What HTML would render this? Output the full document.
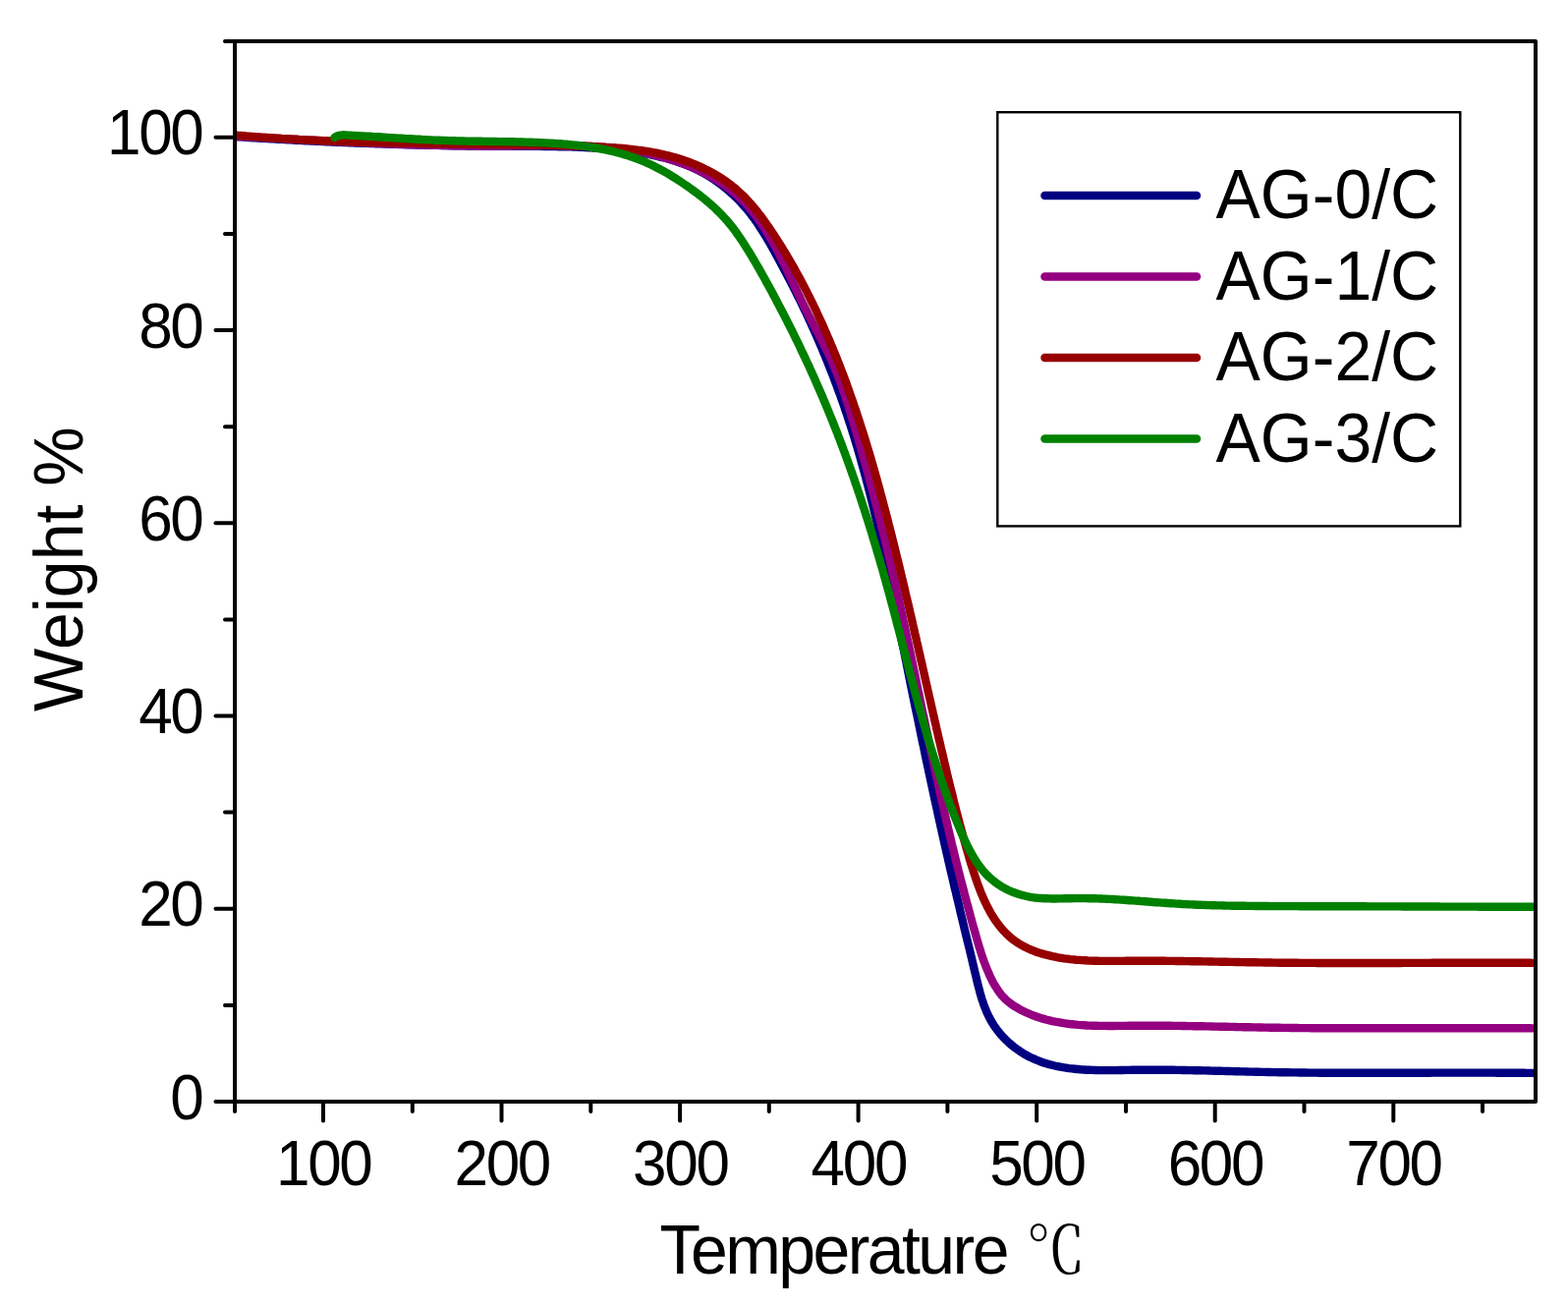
<!DOCTYPE html>
<html><head><meta charset="utf-8"><title>TGA</title>
<style>html,body{margin:0;padding:0;background:#fff;}svg{display:block;}</style>
</head><body>
<svg width="1596" height="1331" viewBox="0 0 1596 1331">
<rect width="1596" height="1331" fill="#fff"/>
<defs><clipPath id="pc"><rect x="239" y="0" width="1324" height="1331"/></clipPath></defs>
<g clip-path="url(#pc)" fill="none" stroke-width="8.4" stroke-linejoin="round" stroke-linecap="round">
<path d="M239.0,139.0L242.0,139.2 245.0,139.4 248.0,139.6 251.0,139.8 254.0,140.0 257.0,140.2 260.0,140.3 263.0,140.5 266.0,140.7 269.0,140.9 272.0,141.1 275.0,141.2 278.0,141.4 281.0,141.6 283.9,141.7 286.9,141.9 289.9,142.1 292.9,142.2 295.9,142.4 298.9,142.6 301.9,142.7 304.9,142.9 307.9,143.0 310.9,143.2 313.9,143.3 316.9,143.5 319.9,143.6 322.9,143.8 325.9,143.9 328.9,144.1 331.9,144.2 334.9,144.3 337.9,144.5 340.9,144.6 343.9,144.7 346.8,144.9 349.8,145.0 352.8,145.1 355.8,145.2 358.8,145.3 361.8,145.5 364.8,145.6 367.8,145.7 370.8,145.8 373.8,145.9 376.8,146.0 379.8,146.1 382.8,146.2 385.8,146.3 388.8,146.4 391.8,146.5 394.8,146.6 397.8,146.7 400.8,146.8 403.8,146.9 406.8,147.0 409.8,147.1 412.8,147.2 415.8,147.2 418.7,147.3 421.7,147.4 424.7,147.5 427.7,147.5 430.7,147.6 433.7,147.7 436.7,147.8 439.7,147.8 442.7,147.9 445.7,147.9 448.7,148.0 451.7,148.1 454.7,148.1 457.7,148.2 460.7,148.2 463.7,148.3 466.7,148.3 469.7,148.4 472.7,148.4 475.7,148.5 478.7,148.5 481.7,148.5 484.7,148.6 487.7,148.6 490.7,148.6 493.7,148.7 496.7,148.7 499.7,148.7 502.8,148.7 505.8,148.8 508.8,148.8 511.8,148.8 514.8,148.8 517.8,148.8 520.8,148.8 523.8,148.8 526.8,148.8 529.8,148.9 532.8,148.9 535.8,148.9 538.8,148.9 541.8,148.9 544.8,148.9 547.8,148.9 550.8,148.9 553.8,149.0 556.8,149.0 559.9,149.0 562.9,149.1 565.9,149.1 568.9,149.2 571.9,149.2 574.9,149.3 577.9,149.4 580.9,149.4 583.9,149.5 586.9,149.6 589.8,149.8 592.8,149.9 595.8,150.0 598.8,150.2 601.8,150.3 604.8,150.5 607.8,150.7 610.8,150.9 613.8,151.1 616.7,151.4 619.7,151.6 622.7,151.9 625.7,152.2 628.7,152.5 631.6,152.8 634.6,153.2 637.6,153.5 640.5,153.9 643.5,154.3 646.5,154.7 649.4,155.2 652.4,155.7 655.3,156.2 658.3,156.7 661.2,157.2 664.2,157.8 667.1,158.4 670.0,159.1 672.9,159.8 675.8,160.5 678.7,161.2 681.6,162.0 684.5,162.9 687.3,163.7 690.1,164.7 693.0,165.7 695.8,166.7 698.5,167.8 701.3,168.9 704.1,170.1 706.8,171.3 709.5,172.6 712.1,174.0 714.8,175.4 717.4,176.9 720.0,178.4 722.6,180.0 725.1,181.6 727.6,183.3 730.1,185.0 732.6,186.8 735.0,188.6 737.3,190.5 739.7,192.4 742.0,194.3 744.2,196.3 746.5,198.4 748.6,200.4 750.8,202.5 752.9,204.7 754.9,206.9 756.9,209.1 758.9,211.3 760.8,213.6 762.7,216.0 764.5,218.3 766.3,220.7 768.1,223.1 769.8,225.5 771.5,227.9 773.1,230.4 774.7,232.9 776.3,235.4 777.9,237.9 779.5,240.5 781.0,243.1 782.5,245.6 784.0,248.2 785.5,250.8 786.9,253.4 788.4,256.0 789.8,258.7 791.3,261.3 792.7,263.9 794.1,266.6 795.5,269.2 796.9,271.8 798.3,274.5 799.7,277.1 801.1,279.8 802.5,282.4 803.9,285.1 805.3,287.8 806.6,290.4 808.0,293.1 809.4,295.8 810.7,298.5 812.0,301.2 813.4,303.8 814.7,306.5 816.0,309.2 817.3,311.9 818.6,314.6 819.9,317.3 821.2,320.1 822.5,322.8 823.7,325.5 825.0,328.2 826.2,331.0 827.5,333.7 828.7,336.4 829.9,339.2 831.1,341.9 832.3,344.7 833.5,347.4 834.7,350.2 835.9,352.9 837.1,355.7 838.2,358.5 839.4,361.2 840.5,364.0 841.7,366.8 842.8,369.6 843.9,372.4 845.0,375.2 846.1,378.0 847.2,380.7 848.3,383.5 849.3,386.3 850.4,389.2 851.5,392.0 852.5,394.8 853.5,397.6 854.6,400.4 855.6,403.2 856.6,406.1 857.6,408.9 858.6,411.7 859.6,414.5 860.5,417.4 861.5,420.2 862.5,423.1 863.4,425.9 864.3,428.8 865.3,431.6 866.2,434.5 867.1,437.3 868.0,440.2 868.9,443.0 869.8,445.9 870.6,448.8 871.5,451.6 872.4,454.5 873.2,457.4 874.0,460.2 874.9,463.1 875.7,466.0 876.5,468.9 877.3,471.8 878.1,474.6 878.9,477.5 879.7,480.4 880.5,483.3 881.3,486.2 882.0,489.1 882.8,492.0 883.6,494.9 884.3,497.8 885.1,500.7 885.8,503.6 886.5,506.5 887.2,509.4 888.0,512.3 888.7,515.2 889.4,518.1 890.1,521.1 890.8,524.0 891.5,526.9 892.2,529.8 892.8,532.7 893.5,535.6 894.2,538.6 894.9,541.5 895.5,544.4 896.2,547.3 896.8,550.3 897.5,553.2 898.1,556.1 898.8,559.1 899.4,562.0 900.1,564.9 900.7,567.8 901.3,570.8 902.0,573.7 902.6,576.7 903.2,579.6 903.8,582.5 904.4,585.5 905.0,588.4 905.7,591.3 906.3,594.3 906.9,597.2 907.5,600.2 908.1,603.1 908.7,606.0 909.3,609.0 909.9,611.9 910.5,614.9 911.1,617.8 911.7,620.8 912.3,623.7 912.9,626.6 913.5,629.6 914.1,632.5 914.7,635.5 915.2,638.4 915.8,641.4 916.4,644.3 917.0,647.3 917.6,650.2 918.2,653.2 918.8,656.1 919.4,659.0 920.0,662.0 920.6,664.9 921.2,667.9 921.8,670.8 922.4,673.8 923.0,676.7 923.6,679.7 924.1,682.6 924.7,685.5 925.3,688.5 925.9,691.4 926.5,694.4 927.1,697.3 927.7,700.3 928.3,703.2 928.9,706.1 929.5,709.1 930.1,712.0 930.7,715.0 931.3,717.9 931.9,720.8 932.5,723.8 933.2,726.7 933.8,729.7 934.4,732.6 935.0,735.5 935.6,738.5 936.2,741.4 936.8,744.4 937.4,747.3 938.0,750.2 938.6,753.2 939.2,756.1 939.9,759.0 940.5,762.0 941.1,764.9 941.7,767.9 942.3,770.8 942.9,773.7 943.6,776.7 944.2,779.6 944.8,782.5 945.4,785.5 946.1,788.4 946.7,791.3 947.3,794.2 947.9,797.2 948.6,800.1 949.2,803.0 949.8,806.0 950.5,808.9 951.1,811.8 951.7,814.7 952.4,817.7 953.0,820.6 953.7,823.5 954.3,826.5 954.9,829.4 955.6,832.3 956.2,835.2 956.9,838.1 957.5,841.1 958.2,844.0 958.8,846.9 959.5,849.8 960.1,852.7 960.8,855.7 961.4,858.6 962.1,861.5 962.8,864.4 963.4,867.3 964.1,870.2 964.8,873.2 965.4,876.1 966.1,879.0 966.8,881.9 967.4,884.8 968.1,887.7 968.8,890.6 969.5,893.5 970.2,896.4 970.8,899.3 971.5,902.2 972.2,905.2 972.9,908.1 973.6,911.0 974.3,913.9 975.0,916.8 975.7,919.7 976.4,922.6 977.0,925.5 977.7,928.4 978.4,931.3 979.1,934.2 979.8,937.1 980.5,940.1 981.2,943.0 981.9,945.9 982.6,948.8 983.3,951.7 984.0,954.6 984.7,957.6 985.5,960.5 986.2,963.4 986.9,966.3 987.6,969.3 988.3,972.2 989.0,975.1 989.7,978.1 990.4,981.0 991.1,984.0 991.8,986.9 992.5,989.9 993.2,992.8 993.9,995.8 994.6,998.7 995.3,1001.7 996.1,1004.6 996.9,1007.6 997.6,1010.5 998.5,1013.4 999.3,1016.3 1000.3,1019.1 1001.2,1022.0 1002.3,1024.8 1003.4,1027.5 1004.5,1030.3 1005.8,1033.0 1007.1,1035.6 1008.5,1038.2 1010.0,1040.8 1011.6,1043.3 1013.3,1045.8 1015.1,1048.2 1016.9,1050.5 1018.8,1052.8 1020.8,1055.0 1022.9,1057.2 1025.0,1059.2 1027.2,1061.3 1029.4,1063.2 1031.7,1065.1 1034.1,1066.9 1036.5,1068.6 1038.9,1070.2 1041.4,1071.8 1043.9,1073.3 1046.5,1074.7 1049.0,1076.0 1051.7,1077.2 1054.3,1078.4 1057.0,1079.4 1059.7,1080.5 1062.4,1081.4 1065.2,1082.3 1068.0,1083.1 1070.8,1083.8 1073.6,1084.5 1076.5,1085.1 1079.3,1085.7 1082.2,1086.2 1085.1,1086.6 1088.1,1087.1 1091.0,1087.4 1094.0,1087.7 1097.0,1088.0 1100.0,1088.3 1103.0,1088.5 1106.0,1088.7 1109.0,1088.8 1112.1,1088.9 1115.1,1089.0 1118.2,1089.1 1121.3,1089.1 1124.3,1089.1 1127.4,1089.1 1130.5,1089.1 1133.6,1089.1 1136.7,1089.1 1139.7,1089.0 1142.8,1089.0 1145.9,1088.9 1149.0,1088.9 1152.1,1088.8 1155.1,1088.8 1158.2,1088.8 1161.3,1088.7 1164.3,1088.7 1167.4,1088.7 1170.4,1088.7 1173.5,1088.7 1176.5,1088.7 1179.5,1088.7 1182.5,1088.7 1185.6,1088.7 1188.6,1088.8 1191.6,1088.8 1194.6,1088.8 1197.6,1088.9 1200.6,1088.9 1203.6,1089.0 1206.6,1089.0 1209.6,1089.1 1212.6,1089.1 1215.6,1089.2 1218.6,1089.2 1221.6,1089.3 1224.5,1089.4 1227.5,1089.4 1230.5,1089.5 1233.5,1089.6 1236.4,1089.7 1239.4,1089.7 1242.4,1089.8 1245.4,1089.9 1248.3,1090.0 1251.3,1090.0 1254.3,1090.1 1257.2,1090.2 1260.2,1090.3 1263.2,1090.4 1266.1,1090.4 1269.1,1090.5 1272.1,1090.6 1275.0,1090.6 1278.0,1090.7 1281.0,1090.8 1284.0,1090.9 1286.9,1090.9 1289.9,1091.0 1292.9,1091.0 1295.9,1091.1 1298.8,1091.1 1301.8,1091.2 1304.8,1091.2 1307.8,1091.3 1310.8,1091.3 1313.8,1091.4 1316.8,1091.4 1319.8,1091.4 1322.7,1091.5 1325.7,1091.5 1328.7,1091.5 1331.7,1091.6 1334.7,1091.6 1337.7,1091.6 1340.7,1091.6 1343.7,1091.7 1346.7,1091.7 1349.7,1091.7 1352.7,1091.7 1355.7,1091.7 1358.7,1091.7 1361.7,1091.7 1364.7,1091.8 1367.8,1091.8 1370.8,1091.8 1373.8,1091.8 1376.8,1091.8 1379.8,1091.8 1382.8,1091.8 1385.8,1091.8 1388.8,1091.8 1391.8,1091.8 1394.8,1091.8 1397.9,1091.8 1400.9,1091.8 1403.9,1091.8 1406.9,1091.8 1409.9,1091.8 1412.9,1091.8 1415.9,1091.8 1418.9,1091.7 1422.0,1091.7 1425.0,1091.7 1428.0,1091.7 1431.0,1091.7 1434.0,1091.7 1437.0,1091.7 1440.0,1091.7 1443.1,1091.7 1446.1,1091.7 1449.1,1091.7 1452.1,1091.7 1455.1,1091.7 1458.1,1091.6 1461.1,1091.6 1464.1,1091.6 1467.1,1091.6 1470.2,1091.6 1473.2,1091.6 1476.2,1091.6 1479.2,1091.6 1482.2,1091.6 1485.2,1091.6 1488.2,1091.6 1491.2,1091.6 1494.2,1091.6 1497.2,1091.6 1500.2,1091.6 1503.2,1091.6 1506.2,1091.6 1509.2,1091.6 1512.2,1091.6 1515.2,1091.6 1518.2,1091.6 1521.2,1091.6 1524.2,1091.7 1527.2,1091.7 1530.2,1091.7 1533.2,1091.7 1536.2,1091.7 1539.2,1091.7 1542.1,1091.8 1545.1,1091.8 1548.1,1091.8 1551.1,1091.8 1554.1,1091.9 1557.1,1091.9 1560.0,1091.9 1563.0,1092.0 1566.0,1092.0" stroke="#000080"/>
<path d="M239.0,138.5L242.0,138.7 245.0,138.8 248.0,139.0 251.0,139.2 254.0,139.3 257.0,139.5 260.0,139.6 263.0,139.8 266.0,140.0 269.0,140.1 271.9,140.3 274.9,140.5 277.9,140.6 280.9,140.8 283.9,140.9 286.9,141.1 289.9,141.3 292.9,141.4 295.9,141.6 298.9,141.7 301.9,141.9 304.9,142.1 307.9,142.2 310.9,142.4 313.9,142.5 316.9,142.7 319.9,142.8 322.9,143.0 325.8,143.2 328.8,143.3 331.8,143.5 334.8,143.6 337.8,143.8 340.8,143.9 343.8,144.0 346.8,144.2 349.8,144.3 352.8,144.5 355.8,144.6 358.8,144.7 361.8,144.9 364.8,145.0 367.8,145.2 370.8,145.3 373.8,145.4 376.8,145.5 379.7,145.7 382.7,145.8 385.7,145.9 388.7,146.0 391.7,146.1 394.7,146.3 397.7,146.4 400.7,146.5 403.7,146.6 406.7,146.7 409.7,146.8 412.7,146.9 415.7,147.0 418.7,147.1 421.7,147.2 424.7,147.3 427.7,147.4 430.7,147.5 433.7,147.5 436.7,147.6 439.7,147.7 442.7,147.8 445.7,147.8 448.7,147.9 451.7,148.0 454.7,148.0 457.7,148.1 460.7,148.1 463.7,148.2 466.7,148.2 469.7,148.3 472.7,148.3 475.7,148.4 478.7,148.4 481.7,148.4 484.7,148.5 487.7,148.5 490.7,148.5 493.7,148.5 496.7,148.5 499.7,148.5 502.7,148.5 505.7,148.5 508.7,148.5 511.7,148.5 514.7,148.5 517.7,148.5 520.7,148.5 523.7,148.4 526.7,148.4 529.7,148.4 532.7,148.3 535.7,148.3 538.7,148.3 541.7,148.2 544.7,148.2 547.7,148.2 550.7,148.1 553.7,148.1 556.7,148.1 559.7,148.1 562.7,148.1 565.7,148.1 568.7,148.1 571.7,148.1 574.7,148.1 577.7,148.2 580.7,148.2 583.7,148.3 586.7,148.4 589.7,148.5 592.7,148.6 595.7,148.7 598.7,148.8 601.7,148.9 604.7,149.1 607.7,149.3 610.6,149.5 613.6,149.7 616.6,150.0 619.6,150.2 622.6,150.5 625.6,150.8 628.5,151.1 631.5,151.5 634.5,151.9 637.5,152.3 640.4,152.7 643.4,153.2 646.4,153.7 649.4,154.2 652.3,154.7 655.3,155.3 658.2,155.9 661.2,156.6 664.1,157.2 667.1,157.9 670.0,158.7 672.9,159.5 675.9,160.3 678.8,161.1 681.7,162.0 684.5,162.9 687.4,163.8 690.2,164.8 693.1,165.8 695.9,166.8 698.7,167.9 701.5,169.0 704.2,170.2 707.0,171.4 709.7,172.6 712.4,173.9 715.0,175.2 717.7,176.6 720.3,178.0 722.9,179.4 725.4,180.9 728.0,182.4 730.5,183.9 732.9,185.5 735.4,187.2 737.8,188.9 740.1,190.6 742.5,192.3 744.8,194.2 747.0,196.0 749.2,197.9 751.4,199.9 753.5,201.9 755.6,203.9 757.7,206.0 759.7,208.1 761.6,210.3 763.6,212.5 765.5,214.8 767.3,217.1 769.1,219.4 770.9,221.8 772.6,224.2 774.4,226.7 776.0,229.1 777.7,231.6 779.3,234.2 780.9,236.7 782.5,239.3 784.0,241.9 785.5,244.6 787.0,247.2 788.5,249.9 789.9,252.6 791.4,255.3 792.8,258.0 794.2,260.8 795.6,263.5 797.0,266.3 798.3,269.0 799.7,271.8 801.0,274.6 802.3,277.4 803.7,280.2 805.0,283.0 806.3,285.8 807.6,288.6 808.9,291.4 810.2,294.1 811.5,296.9 812.8,299.7 814.1,302.4 815.4,305.2 816.7,307.9 818.1,310.6 819.4,313.4 820.7,316.0 822.1,318.7 823.4,321.4 824.8,324.0 826.2,326.7 827.5,329.3 828.9,331.9 830.2,334.5 831.6,337.1 833.0,339.7 834.3,342.3 835.7,344.9 837.0,347.5 838.3,350.1 839.6,352.7 840.9,355.3 842.2,358.0 843.5,360.6 844.7,363.2 846.0,365.9 847.2,368.6 848.4,371.3 849.5,374.0 850.6,376.7 851.8,379.4 852.8,382.2 853.9,385.0 855.0,387.8 856.0,390.6 857.0,393.4 858.0,396.3 858.9,399.1 859.9,402.0 860.8,404.9 861.7,407.8 862.7,410.6 863.6,413.5 864.5,416.4 865.4,419.3 866.2,422.2 867.1,425.1 868.0,428.0 868.9,430.9 869.7,433.8 870.6,436.7 871.5,439.6 872.3,442.4 873.2,445.3 874.0,448.2 874.8,451.1 875.7,454.0 876.5,456.9 877.3,459.8 878.1,462.7 879.0,465.6 879.8,468.5 880.6,471.4 881.4,474.3 882.2,477.2 883.0,480.1 883.8,483.0 884.5,485.9 885.3,488.8 886.1,491.7 886.9,494.6 887.6,497.5 888.4,500.4 889.2,503.3 889.9,506.2 890.7,509.1 891.4,512.0 892.2,514.9 892.9,517.8 893.7,520.7 894.4,523.6 895.1,526.5 895.9,529.4 896.6,532.3 897.3,535.2 898.0,538.1 898.7,541.0 899.5,543.9 900.2,546.8 900.9,549.7 901.6,552.6 902.3,555.5 903.0,558.5 903.7,561.4 904.3,564.3 905.0,567.2 905.7,570.1 906.4,573.0 907.1,575.9 907.8,578.8 908.4,581.8 909.1,584.7 909.8,587.6 910.4,590.5 911.1,593.4 911.8,596.3 912.4,599.3 913.1,602.2 913.7,605.1 914.4,608.0 915.0,610.9 915.7,613.9 916.3,616.8 917.0,619.7 917.6,622.6 918.3,625.6 918.9,628.5 919.5,631.4 920.2,634.4 920.8,637.3 921.4,640.2 922.1,643.1 922.7,646.1 923.3,649.0 923.9,651.9 924.6,654.9 925.2,657.8 925.8,660.7 926.4,663.7 927.1,666.6 927.7,669.5 928.3,672.5 928.9,675.4 929.5,678.4 930.1,681.3 930.8,684.2 931.4,687.2 932.0,690.1 932.6,693.0 933.2,696.0 933.8,698.9 934.4,701.9 935.1,704.8 935.7,707.7 936.3,710.7 936.9,713.6 937.5,716.6 938.1,719.5 938.7,722.4 939.3,725.4 940.0,728.3 940.6,731.2 941.2,734.2 941.8,737.1 942.4,740.1 943.0,743.0 943.7,745.9 944.3,748.9 944.9,751.8 945.5,754.7 946.1,757.7 946.8,760.6 947.4,763.5 948.0,766.5 948.7,769.4 949.3,772.3 949.9,775.3 950.5,778.2 951.2,781.1 951.8,784.1 952.4,787.0 953.1,789.9 953.7,792.8 954.4,795.8 955.0,798.7 955.7,801.6 956.3,804.5 957.0,807.5 957.6,810.4 958.3,813.3 958.9,816.2 959.6,819.1 960.3,822.1 960.9,825.0 961.6,827.9 962.3,830.8 962.9,833.7 963.6,836.6 964.3,839.5 965.0,842.5 965.7,845.4 966.4,848.3 967.1,851.2 967.7,854.1 968.4,857.0 969.1,859.9 969.9,862.8 970.6,865.7 971.3,868.6 972.0,871.5 972.7,874.4 973.4,877.3 974.2,880.2 974.9,883.1 975.6,886.0 976.4,888.9 977.1,891.8 977.8,894.6 978.6,897.5 979.3,900.4 980.1,903.3 980.9,906.2 981.6,909.1 982.4,912.0 983.2,914.9 983.9,917.8 984.7,920.7 985.5,923.6 986.3,926.5 987.1,929.4 987.8,932.3 988.6,935.2 989.4,938.1 990.2,941.0 991.0,943.9 991.9,946.8 992.7,949.7 993.5,952.6 994.3,955.5 995.2,958.4 996.0,961.3 996.9,964.2 997.8,967.1 998.7,970.0 999.6,972.8 1000.6,975.7 1001.6,978.5 1002.7,981.3 1003.8,984.2 1004.9,986.9 1006.1,989.7 1007.3,992.5 1008.6,995.2 1009.9,997.9 1011.3,1000.5 1012.8,1003.1 1014.4,1005.6 1016.0,1008.1 1017.8,1010.5 1019.6,1012.8 1021.6,1014.9 1023.6,1017.0 1025.8,1019.0 1028.1,1020.8 1030.5,1022.5 1033.0,1024.2 1035.5,1025.7 1038.1,1027.2 1040.7,1028.5 1043.4,1029.8 1046.1,1031.0 1048.8,1032.2 1051.5,1033.3 1054.3,1034.3 1057.0,1035.2 1059.8,1036.1 1062.6,1036.9 1065.5,1037.7 1068.3,1038.4 1071.2,1039.1 1074.1,1039.7 1077.0,1040.2 1079.9,1040.7 1082.8,1041.2 1085.7,1041.6 1088.7,1042.0 1091.6,1042.3 1094.6,1042.6 1097.6,1042.9 1100.6,1043.1 1103.6,1043.3 1106.6,1043.5 1109.6,1043.6 1112.6,1043.7 1115.6,1043.8 1118.7,1043.9 1121.7,1043.9 1124.7,1043.9 1127.8,1044.0 1130.8,1044.0 1133.9,1044.0 1136.9,1043.9 1140.0,1043.9 1143.0,1043.9 1146.1,1043.9 1149.1,1043.8 1152.2,1043.8 1155.2,1043.8 1158.2,1043.8 1161.3,1043.7 1164.3,1043.7 1167.3,1043.7 1170.4,1043.7 1173.4,1043.7 1176.4,1043.7 1179.4,1043.7 1182.5,1043.8 1185.5,1043.8 1188.5,1043.8 1191.5,1043.8 1194.5,1043.9 1197.5,1043.9 1200.5,1043.9 1203.5,1044.0 1206.5,1044.0 1209.5,1044.1 1212.5,1044.1 1215.5,1044.2 1218.5,1044.2 1221.5,1044.3 1224.4,1044.3 1227.4,1044.4 1230.4,1044.4 1233.4,1044.5 1236.4,1044.6 1239.4,1044.6 1242.3,1044.7 1245.3,1044.7 1248.3,1044.8 1251.3,1044.9 1254.3,1044.9 1257.2,1045.0 1260.2,1045.1 1263.2,1045.1 1266.2,1045.2 1269.2,1045.2 1272.2,1045.3 1275.1,1045.4 1278.1,1045.4 1281.1,1045.5 1284.1,1045.5 1287.1,1045.6 1290.0,1045.6 1293.0,1045.7 1296.0,1045.7 1299.0,1045.8 1302.0,1045.8 1305.0,1045.9 1308.0,1045.9 1311.0,1045.9 1314.0,1046.0 1317.0,1046.0 1319.9,1046.0 1322.9,1046.1 1325.9,1046.1 1328.9,1046.1 1331.9,1046.1 1334.9,1046.2 1337.9,1046.2 1340.9,1046.2 1343.9,1046.2 1346.9,1046.2 1349.9,1046.2 1352.9,1046.3 1355.9,1046.3 1358.9,1046.3 1361.9,1046.3 1364.9,1046.3 1367.9,1046.3 1370.9,1046.3 1373.9,1046.3 1376.9,1046.3 1379.9,1046.3 1382.9,1046.3 1386.0,1046.3 1389.0,1046.3 1392.0,1046.3 1395.0,1046.3 1398.0,1046.3 1401.0,1046.3 1404.0,1046.3 1407.0,1046.3 1410.0,1046.3 1413.0,1046.3 1416.0,1046.3 1419.0,1046.3 1422.0,1046.3 1425.0,1046.3 1428.0,1046.3 1431.0,1046.3 1434.1,1046.3 1437.1,1046.3 1440.1,1046.3 1443.1,1046.3 1446.1,1046.3 1449.1,1046.3 1452.1,1046.3 1455.1,1046.3 1458.1,1046.2 1461.1,1046.2 1464.1,1046.2 1467.1,1046.2 1470.1,1046.2 1473.1,1046.2 1476.1,1046.2 1479.1,1046.2 1482.1,1046.2 1485.1,1046.2 1488.1,1046.2 1491.1,1046.2 1494.2,1046.2 1497.2,1046.2 1500.2,1046.2 1503.2,1046.2 1506.2,1046.2 1509.2,1046.2 1512.1,1046.2 1515.1,1046.2 1518.1,1046.2 1521.1,1046.2 1524.1,1046.2 1527.1,1046.2 1530.1,1046.2 1533.1,1046.2 1536.1,1046.2 1539.1,1046.2 1542.1,1046.3 1545.1,1046.3 1548.1,1046.3 1551.1,1046.3 1554.1,1046.3 1557.0,1046.3 1560.0,1046.4 1563.0,1046.4 1566.0,1046.4" stroke="#940080"/>
<path d="M239.0,137.5L242.0,137.8 245.0,138.0 247.9,138.2 250.9,138.5 253.9,138.7 256.9,138.9 259.9,139.2 262.9,139.4 265.9,139.6 268.8,139.8 271.8,140.0 274.8,140.2 277.8,140.4 280.8,140.6 283.8,140.8 286.8,141.0 289.8,141.1 292.7,141.3 295.7,141.5 298.7,141.7 301.7,141.8 304.7,142.0 307.7,142.1 310.7,142.3 313.7,142.5 316.7,142.6 319.7,142.7 322.7,142.9 325.7,143.0 328.7,143.2 331.6,143.3 334.6,143.4 337.6,143.5 340.6,143.7 343.6,143.8 346.6,143.9 349.6,144.0 352.6,144.1 355.6,144.2 358.6,144.3 361.6,144.4 364.6,144.5 367.6,144.6 370.6,144.7 373.6,144.8 376.6,144.9 379.6,145.0 382.6,145.0 385.6,145.1 388.6,145.2 391.6,145.3 394.6,145.4 397.6,145.4 400.6,145.5 403.6,145.6 406.6,145.6 409.6,145.7 412.6,145.8 415.6,145.8 418.6,145.9 421.5,145.9 424.5,146.0 427.5,146.0 430.5,146.1 433.5,146.1 436.5,146.2 439.5,146.2 442.5,146.3 445.5,146.3 448.5,146.4 451.5,146.4 454.5,146.4 457.5,146.5 460.5,146.5 463.5,146.5 466.5,146.6 469.5,146.6 472.5,146.7 475.5,146.7 478.4,146.7 481.4,146.7 484.4,146.8 487.4,146.8 490.4,146.8 493.4,146.9 496.4,146.9 499.4,146.9 502.4,147.0 505.4,147.0 508.4,147.0 511.3,147.0 514.3,147.1 517.3,147.1 520.3,147.1 523.3,147.2 526.3,147.2 529.3,147.3 532.3,147.3 535.3,147.3 538.3,147.4 541.3,147.4 544.2,147.5 547.2,147.5 550.2,147.6 553.2,147.6 556.2,147.7 559.2,147.8 562.2,147.8 565.2,147.9 568.2,148.0 571.2,148.0 574.2,148.1 577.2,148.2 580.2,148.3 583.2,148.4 586.2,148.5 589.2,148.6 592.2,148.7 595.2,148.8 598.2,148.9 601.2,149.0 604.2,149.2 607.2,149.3 610.2,149.4 613.2,149.6 616.2,149.8 619.2,149.9 622.2,150.1 625.2,150.3 628.2,150.6 631.2,150.8 634.2,151.0 637.2,151.3 640.1,151.6 643.1,151.9 646.1,152.3 649.1,152.7 652.0,153.0 655.0,153.5 658.0,153.9 660.9,154.4 663.9,154.9 666.8,155.5 669.7,156.0 672.7,156.7 675.6,157.3 678.5,158.0 681.4,158.7 684.3,159.5 687.2,160.3 690.0,161.1 692.9,162.0 695.8,163.0 698.6,164.0 701.4,165.0 704.2,166.1 707.0,167.2 709.8,168.4 712.6,169.6 715.3,170.9 718.0,172.2 720.7,173.5 723.4,174.9 726.0,176.4 728.6,177.9 731.2,179.4 733.7,181.0 736.2,182.6 738.7,184.3 741.1,186.1 743.5,187.9 745.8,189.7 748.1,191.6 750.3,193.5 752.5,195.5 754.7,197.5 756.8,199.5 758.9,201.7 760.9,203.8 762.9,206.0 764.9,208.2 766.8,210.4 768.7,212.7 770.6,215.0 772.4,217.4 774.2,219.7 776.0,222.1 777.7,224.5 779.5,227.0 781.2,229.4 782.9,231.9 784.6,234.4 786.2,236.8 787.9,239.4 789.5,241.9 791.2,244.4 792.8,246.9 794.4,249.5 795.9,252.0 797.5,254.6 799.1,257.1 800.6,259.7 802.1,262.3 803.7,264.9 805.2,267.5 806.7,270.1 808.2,272.7 809.6,275.3 811.1,278.0 812.5,280.6 814.0,283.2 815.4,285.9 816.8,288.5 818.2,291.2 819.6,293.9 821.0,296.5 822.3,299.2 823.7,301.9 825.0,304.6 826.3,307.3 827.7,310.0 829.0,312.7 830.3,315.4 831.5,318.1 832.8,320.9 834.1,323.6 835.3,326.3 836.6,329.1 837.8,331.8 839.0,334.5 840.2,337.3 841.4,340.0 842.6,342.8 843.8,345.5 845.0,348.3 846.1,351.1 847.3,353.8 848.4,356.6 849.6,359.4 850.7,362.1 851.8,364.9 852.9,367.7 854.0,370.5 855.1,373.3 856.1,376.1 857.2,378.8 858.3,381.6 859.3,384.4 860.4,387.2 861.4,390.0 862.4,392.8 863.4,395.7 864.4,398.5 865.4,401.3 866.4,404.1 867.4,406.9 868.4,409.7 869.3,412.6 870.3,415.4 871.3,418.2 872.2,421.0 873.1,423.9 874.1,426.7 875.0,429.5 875.9,432.4 876.8,435.2 877.7,438.1 878.6,440.9 879.5,443.8 880.4,446.6 881.3,449.5 882.1,452.3 883.0,455.2 883.9,458.0 884.7,460.9 885.6,463.7 886.4,466.6 887.3,469.5 888.1,472.3 888.9,475.2 889.7,478.1 890.6,481.0 891.4,483.8 892.2,486.7 893.0,489.6 893.8,492.5 894.6,495.4 895.4,498.2 896.1,501.1 896.9,504.0 897.7,506.9 898.5,509.8 899.2,512.7 900.0,515.6 900.8,518.5 901.5,521.4 902.3,524.3 903.0,527.2 903.8,530.1 904.5,533.0 905.3,535.9 906.0,538.8 906.7,541.7 907.5,544.6 908.2,547.5 908.9,550.4 909.7,553.3 910.4,556.2 911.1,559.1 911.8,562.1 912.5,565.0 913.2,567.9 914.0,570.8 914.7,573.7 915.4,576.6 916.1,579.6 916.8,582.5 917.5,585.4 918.2,588.3 918.9,591.2 919.6,594.2 920.3,597.1 921.0,600.0 921.6,602.9 922.3,605.9 923.0,608.8 923.7,611.7 924.4,614.6 925.1,617.6 925.7,620.5 926.4,623.4 927.1,626.3 927.8,629.3 928.5,632.2 929.1,635.1 929.8,638.1 930.5,641.0 931.1,643.9 931.8,646.8 932.5,649.8 933.1,652.7 933.8,655.6 934.5,658.5 935.1,661.5 935.8,664.4 936.5,667.3 937.1,670.2 937.8,673.2 938.5,676.1 939.1,679.0 939.8,681.9 940.5,684.9 941.1,687.8 941.8,690.7 942.4,693.6 943.1,696.6 943.8,699.5 944.4,702.4 945.1,705.3 945.7,708.2 946.4,711.1 947.1,714.1 947.7,717.0 948.4,719.9 949.1,722.8 949.7,725.7 950.4,728.6 951.0,731.5 951.7,734.4 952.4,737.3 953.0,740.2 953.7,743.2 954.4,746.1 955.0,749.0 955.7,751.9 956.4,754.8 957.1,757.7 957.7,760.5 958.4,763.4 959.1,766.3 959.8,769.2 960.4,772.1 961.1,775.0 961.8,777.9 962.5,780.8 963.2,783.7 963.8,786.5 964.5,789.4 965.2,792.3 965.9,795.2 966.6,798.1 967.3,801.0 968.0,803.9 968.8,806.7 969.5,809.6 970.2,812.5 970.9,815.4 971.6,818.3 972.4,821.2 973.1,824.1 973.9,827.0 974.6,829.9 975.4,832.8 976.2,835.7 976.9,838.6 977.7,841.5 978.5,844.4 979.3,847.3 980.1,850.3 980.9,853.2 981.7,856.1 982.6,859.0 983.4,862.0 984.2,864.9 985.1,867.9 986.0,870.8 986.8,873.8 987.7,876.7 988.6,879.7 989.5,882.6 990.5,885.6 991.4,888.5 992.4,891.5 993.4,894.4 994.4,897.3 995.4,900.2 996.5,903.1 997.6,906.0 998.7,908.8 999.9,911.6 1001.1,914.4 1002.3,917.1 1003.6,919.8 1004.9,922.5 1006.3,925.1 1007.7,927.7 1009.1,930.2 1010.6,932.7 1012.2,935.1 1013.8,937.5 1015.5,939.8 1017.2,942.1 1019.0,944.2 1020.8,946.4 1022.7,948.4 1024.7,950.4 1026.7,952.3 1028.8,954.2 1031.0,956.0 1033.3,957.6 1035.6,959.2 1038.0,960.7 1040.5,962.2 1043.0,963.5 1045.6,964.8 1048.2,966.0 1051.0,967.1 1053.7,968.2 1056.5,969.2 1059.4,970.1 1062.3,970.9 1065.2,971.7 1068.1,972.4 1071.1,973.1 1074.1,973.7 1077.1,974.3 1080.2,974.8 1083.2,975.3 1086.2,975.7 1089.3,976.1 1092.3,976.4 1095.4,976.7 1098.4,976.9 1101.5,977.1 1104.5,977.3 1107.5,977.5 1110.5,977.6 1113.6,977.7 1116.6,977.8 1119.6,977.9 1122.6,977.9 1125.7,977.9 1128.7,977.9 1131.7,977.9 1134.7,977.9 1137.7,977.9 1140.7,977.9 1143.7,977.9 1146.8,977.8 1149.8,977.8 1152.8,977.8 1155.8,977.8 1158.8,977.8 1161.8,977.8 1164.8,977.8 1167.8,977.8 1170.8,977.8 1173.8,977.8 1176.8,977.8 1179.8,977.8 1182.8,977.8 1185.8,977.8 1188.8,977.9 1191.7,977.9 1194.7,977.9 1197.7,978.0 1200.7,978.0 1203.7,978.0 1206.7,978.1 1209.7,978.1 1212.7,978.2 1215.7,978.2 1218.7,978.3 1221.6,978.3 1224.6,978.4 1227.6,978.4 1230.6,978.5 1233.6,978.5 1236.6,978.6 1239.6,978.6 1242.5,978.7 1245.5,978.7 1248.5,978.8 1251.5,978.9 1254.5,978.9 1257.5,979.0 1260.5,979.0 1263.5,979.1 1266.4,979.1 1269.4,979.2 1272.4,979.2 1275.4,979.3 1278.4,979.3 1281.4,979.4 1284.4,979.4 1287.3,979.5 1290.3,979.5 1293.3,979.5 1296.3,979.6 1299.3,979.6 1302.3,979.7 1305.3,979.7 1308.3,979.7 1311.3,979.8 1314.3,979.8 1317.3,979.8 1320.3,979.8 1323.2,979.9 1326.2,979.9 1329.2,979.9 1332.2,979.9 1335.2,979.9 1338.2,979.9 1341.2,980.0 1344.2,980.0 1347.2,980.0 1350.2,980.0 1353.2,980.0 1356.2,980.0 1359.2,980.0 1362.2,980.0 1365.2,980.0 1368.2,980.0 1371.2,980.0 1374.2,980.0 1377.2,980.0 1380.2,980.0 1383.2,980.0 1386.2,980.0 1389.2,980.0 1392.2,980.0 1395.2,980.0 1398.2,980.0 1401.2,980.0 1404.2,980.0 1407.2,980.0 1410.2,980.0 1413.2,980.0 1416.2,980.0 1419.2,980.0 1422.2,980.0 1425.2,980.0 1428.2,979.9 1431.2,979.9 1434.2,979.9 1437.2,979.9 1440.2,979.9 1443.2,979.9 1446.2,979.9 1449.2,979.9 1452.2,979.9 1455.2,979.9 1458.2,979.8 1461.2,979.8 1464.2,979.8 1467.2,979.8 1470.2,979.8 1473.2,979.8 1476.2,979.8 1479.2,979.8 1482.2,979.8 1485.2,979.8 1488.2,979.8 1491.2,979.8 1494.2,979.8 1497.2,979.8 1500.2,979.8 1503.2,979.7 1506.2,979.7 1509.2,979.7 1512.1,979.7 1515.1,979.7 1518.1,979.7 1521.1,979.7 1524.1,979.7 1527.1,979.8 1530.1,979.8 1533.1,979.8 1536.1,979.8 1539.1,979.8 1542.1,979.8 1545.1,979.8 1548.1,979.8 1551.1,979.8 1554.0,979.8 1557.0,979.8 1560.0,979.9 1563.0,979.9 1566.0,979.9" stroke="#960000"/>
<path d="M340.6,139.9L343.2,138.4 346.5,137.6 349.0,137.3 352.0,137.4 355.0,137.6 358.0,137.8 361.0,137.9 364.0,138.1 367.0,138.3 370.0,138.4 373.0,138.6 376.0,138.8 379.0,139.0 381.9,139.1 384.9,139.3 387.9,139.5 390.9,139.7 393.9,139.9 396.9,140.1 399.9,140.3 402.8,140.4 405.8,140.6 408.8,140.8 411.8,141.0 414.8,141.1 417.8,141.3 420.8,141.5 423.7,141.7 426.7,141.8 429.7,142.0 432.7,142.1 435.7,142.3 438.7,142.4 441.7,142.6 444.6,142.7 447.6,142.8 450.6,142.9 453.6,143.0 456.6,143.1 459.6,143.2 462.6,143.3 465.6,143.4 468.6,143.5 471.6,143.5 474.6,143.6 477.6,143.7 480.6,143.7 483.6,143.8 486.6,143.8 489.6,143.8 492.6,143.9 495.6,143.9 498.6,144.0 501.6,144.0 504.6,144.0 507.6,144.1 510.6,144.1 513.7,144.2 516.7,144.2 519.7,144.2 522.7,144.3 525.7,144.4 528.7,144.4 531.7,144.5 534.7,144.6 537.7,144.7 540.7,144.8 543.7,144.9 546.7,145.0 549.7,145.1 552.7,145.3 555.7,145.4 558.7,145.6 561.6,145.7 564.6,145.9 567.6,146.1 570.6,146.3 573.6,146.6 576.6,146.8 579.5,147.1 582.5,147.4 585.5,147.7 588.5,148.0 591.4,148.4 594.4,148.7 597.3,149.1 600.3,149.6 603.2,150.0 606.2,150.5 609.1,151.0 612.0,151.5 614.9,152.1 617.8,152.7 620.7,153.3 623.6,154.0 626.5,154.7 629.3,155.5 632.2,156.3 635.1,157.1 637.9,157.9 640.7,158.9 643.5,159.8 646.3,160.8 649.1,161.8 651.9,162.9 654.7,164.0 657.4,165.2 660.1,166.5 662.9,167.7 665.6,169.0 668.3,170.4 670.9,171.8 673.6,173.2 676.2,174.7 678.9,176.2 681.5,177.7 684.1,179.3 686.7,180.9 689.2,182.5 691.8,184.2 694.3,185.9 696.8,187.6 699.3,189.3 701.8,191.0 704.2,192.8 706.6,194.5 709.1,196.3 711.4,198.1 713.8,200.0 716.1,201.8 718.5,203.7 720.7,205.6 723.0,207.6 725.2,209.5 727.4,211.5 729.5,213.6 731.6,215.6 733.7,217.7 735.7,219.8 737.7,222.0 739.7,224.2 741.6,226.5 743.5,228.7 745.3,231.1 747.1,233.4 748.9,235.8 750.6,238.2 752.3,240.6 754.0,243.1 755.6,245.5 757.2,248.0 758.8,250.5 760.4,253.1 762.0,255.6 763.6,258.2 765.1,260.7 766.6,263.3 768.2,265.9 769.7,268.5 771.2,271.1 772.7,273.7 774.2,276.3 775.6,278.9 777.1,281.5 778.6,284.1 780.0,286.8 781.5,289.4 782.9,292.0 784.4,294.7 785.8,297.3 787.2,300.0 788.6,302.6 790.0,305.3 791.4,307.9 792.8,310.6 794.2,313.3 795.6,315.9 797.0,318.6 798.4,321.3 799.7,323.9 801.1,326.6 802.4,329.3 803.8,332.0 805.1,334.6 806.5,337.3 807.8,340.0 809.1,342.7 810.4,345.4 811.8,348.1 813.1,350.8 814.4,353.5 815.6,356.2 816.9,358.9 818.2,361.6 819.5,364.3 820.7,367.0 822.0,369.7 823.3,372.4 824.5,375.1 825.7,377.9 827.0,380.6 828.2,383.3 829.4,386.0 830.6,388.8 831.8,391.5 833.0,394.2 834.2,397.0 835.4,399.7 836.6,402.5 837.8,405.2 838.9,408.0 840.1,410.7 841.2,413.5 842.4,416.3 843.5,419.0 844.6,421.8 845.8,424.6 846.9,427.3 848.0,430.1 849.1,432.9 850.2,435.7 851.3,438.5 852.4,441.2 853.4,444.0 854.5,446.8 855.6,449.6 856.6,452.4 857.7,455.2 858.7,458.0 859.8,460.8 860.8,463.6 861.8,466.4 862.9,469.3 863.9,472.1 864.9,474.9 865.9,477.7 866.9,480.5 867.9,483.4 868.9,486.2 869.9,489.0 870.8,491.9 871.8,494.7 872.8,497.5 873.7,500.4 874.7,503.2 875.6,506.0 876.6,508.9 877.5,511.7 878.4,514.6 879.4,517.4 880.3,520.3 881.2,523.1 882.1,526.0 883.0,528.8 883.9,531.7 884.8,534.6 885.7,537.4 886.6,540.3 887.5,543.2 888.3,546.0 889.2,548.9 890.1,551.8 890.9,554.6 891.8,557.5 892.6,560.4 893.5,563.3 894.3,566.1 895.2,569.0 896.0,571.9 896.8,574.8 897.7,577.6 898.5,580.5 899.3,583.4 900.1,586.3 900.9,589.2 901.7,592.1 902.5,595.0 903.3,597.8 904.1,600.7 904.9,603.6 905.7,606.5 906.4,609.4 907.2,612.3 908.0,615.2 908.8,618.1 909.5,621.0 910.3,623.9 911.1,626.8 911.8,629.7 912.6,632.5 913.3,635.4 914.1,638.3 914.9,641.2 915.6,644.1 916.4,647.0 917.1,649.9 917.9,652.8 918.6,655.7 919.4,658.6 920.1,661.5 920.9,664.4 921.6,667.3 922.4,670.2 923.1,673.1 923.9,676.0 924.7,678.9 925.4,681.8 926.2,684.7 926.9,687.5 927.7,690.4 928.5,693.3 929.2,696.2 930.0,699.1 930.8,702.0 931.6,704.9 932.3,707.8 933.1,710.6 933.9,713.5 934.7,716.4 935.5,719.3 936.3,722.2 937.1,725.1 937.9,727.9 938.7,730.8 939.5,733.7 940.4,736.6 941.2,739.4 942.0,742.3 942.9,745.2 943.7,748.0 944.5,750.9 945.4,753.8 946.3,756.6 947.1,759.5 948.0,762.3 948.9,765.2 949.8,768.0 950.7,770.9 951.6,773.7 952.5,776.6 953.4,779.4 954.3,782.3 955.3,785.1 956.2,787.9 957.2,790.8 958.1,793.6 959.1,796.4 960.1,799.3 961.1,802.1 962.1,804.9 963.1,807.7 964.1,810.6 965.1,813.4 966.2,816.2 967.2,819.0 968.3,821.8 969.4,824.6 970.4,827.4 971.5,830.2 972.6,833.0 973.8,835.9 974.9,838.7 976.1,841.5 977.2,844.3 978.4,847.1 979.6,849.9 980.9,852.7 982.2,855.5 983.5,858.3 984.8,861.0 986.2,863.7 987.6,866.4 989.1,869.1 990.6,871.7 992.2,874.3 993.8,876.8 995.5,879.3 997.2,881.7 999.0,884.0 1000.9,886.3 1002.8,888.5 1004.8,890.6 1006.9,892.6 1009.0,894.5 1011.2,896.3 1013.5,898.1 1015.8,899.7 1018.2,901.3 1020.7,902.8 1023.2,904.2 1025.7,905.5 1028.3,906.7 1031.0,907.8 1033.7,908.8 1036.4,909.7 1039.2,910.6 1042.0,911.3 1044.9,912.0 1047.8,912.6 1050.7,913.1 1053.6,913.5 1056.6,913.8 1059.5,914.0 1062.5,914.2 1065.5,914.3 1068.6,914.4 1071.6,914.5 1074.6,914.5 1077.7,914.4 1080.8,914.4 1083.8,914.3 1086.9,914.3 1089.9,914.2 1093.0,914.1 1096.1,914.1 1099.1,914.1 1102.1,914.1 1105.2,914.1 1108.2,914.2 1111.2,914.2 1114.3,914.3 1117.3,914.4 1120.3,914.5 1123.3,914.6 1126.3,914.7 1129.3,914.9 1132.3,915.0 1135.3,915.2 1138.2,915.4 1141.2,915.6 1144.2,915.8 1147.2,916.0 1150.1,916.2 1153.1,916.4 1156.1,916.6 1159.1,916.8 1162.0,917.1 1165.0,917.3 1168.0,917.5 1170.9,917.7 1173.9,918.0 1176.8,918.2 1179.8,918.4 1182.8,918.6 1185.7,918.8 1188.7,919.0 1191.7,919.2 1194.6,919.4 1197.6,919.6 1200.6,919.8 1203.6,920.0 1206.5,920.1 1209.5,920.3 1212.5,920.4 1215.5,920.5 1218.5,920.7 1221.4,920.8 1224.4,920.9 1227.4,921.0 1230.4,921.1 1233.4,921.2 1236.4,921.3 1239.4,921.4 1242.4,921.4 1245.4,921.5 1248.4,921.6 1251.4,921.6 1254.3,921.7 1257.3,921.7 1260.3,921.8 1263.3,921.8 1266.3,921.8 1269.3,921.9 1272.3,921.9 1275.3,921.9 1278.3,922.0 1281.3,922.0 1284.3,922.0 1287.4,922.0 1290.4,922.0 1293.4,922.1 1296.4,922.1 1299.4,922.1 1302.4,922.1 1305.4,922.1 1308.4,922.1 1311.4,922.1 1314.4,922.1 1317.4,922.1 1320.4,922.1 1323.4,922.2 1326.4,922.2 1329.4,922.2 1332.4,922.2 1335.4,922.2 1338.4,922.2 1341.4,922.2 1344.4,922.2 1347.4,922.2 1350.4,922.2 1353.3,922.2 1356.3,922.3 1359.3,922.3 1362.3,922.3 1365.3,922.3 1368.3,922.3 1371.3,922.3 1374.3,922.3 1377.3,922.3 1380.3,922.3 1383.3,922.3 1386.3,922.3 1389.3,922.3 1392.3,922.4 1395.3,922.4 1398.3,922.4 1401.3,922.4 1404.3,922.4 1407.3,922.4 1410.3,922.4 1413.2,922.4 1416.2,922.4 1419.2,922.4 1422.2,922.4 1425.2,922.4 1428.2,922.5 1431.2,922.5 1434.2,922.5 1437.2,922.5 1440.2,922.5 1443.2,922.5 1446.2,922.5 1449.2,922.5 1452.2,922.5 1455.2,922.5 1458.1,922.5 1461.1,922.5 1464.1,922.5 1467.1,922.6 1470.1,922.6 1473.1,922.6 1476.1,922.6 1479.1,922.6 1482.1,922.6 1485.1,922.6 1488.1,922.6 1491.1,922.6 1494.1,922.6 1497.1,922.6 1500.1,922.6 1503.1,922.6 1506.0,922.7 1509.0,922.7 1512.0,922.7 1515.0,922.7 1518.0,922.7 1521.0,922.7 1524.0,922.7 1527.0,922.7 1530.0,922.7 1533.0,922.7 1536.0,922.7 1539.0,922.7 1542.0,922.7 1545.0,922.7 1548.0,922.8 1551.0,922.8 1554.0,922.8 1557.0,922.8 1560.0,922.8 1563.0,922.8 1566.0,922.8" stroke="#008000"/>
</g>
<g stroke="#000" stroke-width="4" fill="none" stroke-linecap="round">
<path d="M239,42H1563V1121H239Z" stroke-linejoin="round"/>
<path d="M219.5,1121.0H239"/>
<path d="M229.0,1022.9H239"/>
<path d="M219.5,924.8H239"/>
<path d="M229.0,826.6H239"/>
<path d="M219.5,728.5H239"/>
<path d="M229.0,630.4H239"/>
<path d="M219.5,532.3H239"/>
<path d="M229.0,434.2H239"/>
<path d="M219.5,336.0H239"/>
<path d="M229.0,237.9H239"/>
<path d="M219.5,139.8H239"/>
<path d="M229.0,42.0H239"/>
<path d="M239.0,1121V1131.0"/>
<path d="M329.0,1121V1140.5"/>
<path d="M419.8,1121V1131.0"/>
<path d="M510.5,1121V1140.5"/>
<path d="M601.3,1121V1131.0"/>
<path d="M692.1,1121V1140.5"/>
<path d="M782.8,1121V1131.0"/>
<path d="M873.6,1121V1140.5"/>
<path d="M964.4,1121V1131.0"/>
<path d="M1055.2,1121V1140.5"/>
<path d="M1146.0,1121V1131.0"/>
<path d="M1236.7,1121V1140.5"/>
<path d="M1327.5,1121V1131.0"/>
<path d="M1418.3,1121V1140.5"/>
<path d="M1509.0,1121V1131.0"/>
</g>
<g font-family="'Liberation Sans', Arial, sans-serif" fill="#000">
<text transform="translate(205.5,1138.6) scale(1,1.04)" font-size="62" letter-spacing="-2.3" text-anchor="end">0</text>
<text transform="translate(205.5,942.4) scale(1,1.04)" font-size="62" letter-spacing="-2.3" text-anchor="end">20</text>
<text transform="translate(205.5,746.1) scale(1,1.04)" font-size="62" letter-spacing="-2.3" text-anchor="end">40</text>
<text transform="translate(205.5,549.9) scale(1,1.04)" font-size="62" letter-spacing="-2.3" text-anchor="end">60</text>
<text transform="translate(205.5,353.6) scale(1,1.04)" font-size="62" letter-spacing="-2.3" text-anchor="end">80</text>
<text transform="translate(205.5,157.4) scale(1,1.04)" font-size="62" letter-spacing="-2.3" text-anchor="end">100</text>
<text transform="translate(377.5,1205.9) scale(1,1.04)" font-size="62" letter-spacing="-2.3" text-anchor="end">100</text>
<text transform="translate(559.0,1205.9) scale(1,1.04)" font-size="62" letter-spacing="-2.3" text-anchor="end">200</text>
<text transform="translate(740.6,1205.9) scale(1,1.04)" font-size="62" letter-spacing="-2.3" text-anchor="end">300</text>
<text transform="translate(922.1,1205.9) scale(1,1.04)" font-size="62" letter-spacing="-2.3" text-anchor="end">400</text>
<text transform="translate(1103.7,1205.9) scale(1,1.04)" font-size="62" letter-spacing="-2.3" text-anchor="end">500</text>
<text transform="translate(1285.2,1205.9) scale(1,1.04)" font-size="62" letter-spacing="-2.3" text-anchor="end">600</text>
<text transform="translate(1466.8,1205.9) scale(1,1.04)" font-size="62" letter-spacing="-2.3" text-anchor="end">700</text>
<text transform="translate(83.7,724) rotate(-90) scale(1,1.04)" font-size="68">Weight %</text>
<text transform="translate(671.5,1296.2) scale(1,1.047)" font-size="68" textLength="356" lengthAdjust="spacing">Temperature</text>
<text transform="translate(1044.5,1294.5) scale(0.884,0.945)" font-size="68" font-family="'Noto Serif CJK SC', serif">℃</text>
</g>
<rect x="1015.3" y="114.2" width="471" height="421.2" fill="none" stroke="#000" stroke-width="2.4"/>
<path d="M1063.5,199.1H1218" stroke="#000080" stroke-width="8.5" stroke-linecap="round"/>
<text transform="translate(1237.5,222.0) scale(1,1.047)" font-family="'Liberation Sans', Arial, sans-serif" font-size="68">AG-0/C</text>
<path d="M1063.5,281.6H1218" stroke="#940080" stroke-width="8.5" stroke-linecap="round"/>
<text transform="translate(1237.5,304.5) scale(1,1.047)" font-family="'Liberation Sans', Arial, sans-serif" font-size="68">AG-1/C</text>
<path d="M1063.5,364.1H1218" stroke="#960000" stroke-width="8.5" stroke-linecap="round"/>
<text transform="translate(1237.5,387.0) scale(1,1.047)" font-family="'Liberation Sans', Arial, sans-serif" font-size="68">AG-2/C</text>
<path d="M1063.5,446.6H1218" stroke="#008000" stroke-width="8.5" stroke-linecap="round"/>
<text transform="translate(1237.5,469.5) scale(1,1.047)" font-family="'Liberation Sans', Arial, sans-serif" font-size="68">AG-3/C</text>
</svg>
</body></html>
